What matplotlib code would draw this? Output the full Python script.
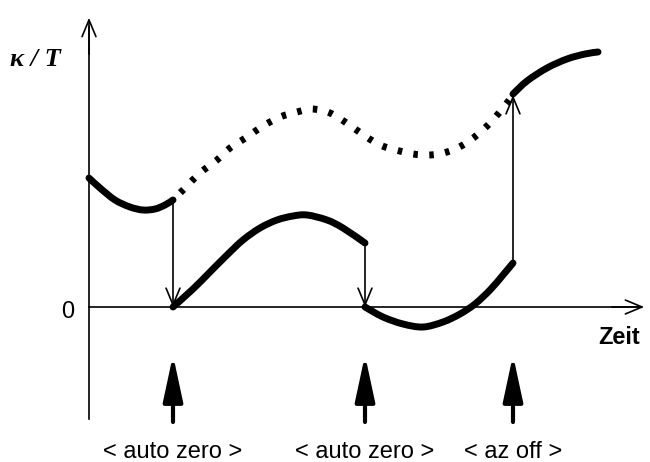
import numpy as np
import matplotlib
matplotlib.use("Agg")
import matplotlib.pyplot as plt
from matplotlib.patches import FancyArrowPatch, PathPatch
from matplotlib.path import Path

# curve segments (t, kappa/T)
seg1_t = [0, 1.1, 2.6, 4.1, 5.4, 6.6, 7.6, 8.4]
seg1_y = [12.9, 11.9, 10.7, 10.0, 9.7, 9.8, 10.2, 10.7]

seg2_t = [8.4, 10.4, 12.1, 13.8, 15.4, 17.1, 18.8, 20.4, 21.8, 23.8, 25.4, 27.6]
seg2_y = [0, 1.8, 3.5, 5.2, 6.7, 7.9, 8.7, 9.1, 9.2, 8.7, 7.9, 6.4]

seg3_t = [27.6, 29.4, 31.4, 33.4, 35.4, 37.1, 38.6, 40.1, 41.4, 42.4]
seg3_y = [0, -1.0, -1.7, -2.0, -1.5, -0.7, 0.3, 1.7, 3.2, 4.4]

seg4_t = [42.4, 43.8, 45.8, 47.8, 49.6, 50.9]
seg4_y = [21.3, 22.6, 23.9, 24.8, 25.3, 25.5]

# drift without auto zero (dotted)
drift_t = [8.4, 9.6, 11.1, 12.8, 14.1, 15.8, 17.4, 19.1, 20.8, 22.3, 24.1, 25.9,
           27.6, 29.1, 30.7, 32.4, 34.1, 35.8, 37.4, 38.8, 40.2, 41.4, 42.4]
drift_y = [10.7, 11.9, 13.4, 14.7, 15.9, 17.0, 18.1, 19.0, 19.5, 19.8, 19.4, 18.3,
           17.1, 16.2, 15.7, 15.3, 15.2, 15.5, 16.2, 17.2, 18.5, 19.9, 21.2]

# jumps at the events
jump_t = [8.4, 27.6, 42.4]
jump_from = [10.7, 6.4, 4.4]
jump_to = [0, 0, 21.2]
event_labels = ["< auto zero >", "< auto zero >", "< az off >"]


def smooth_path(t, y):
    # catmull-rom through the points, handed to matplotlib as cubic beziers
    p = np.column_stack([t, y]).astype(float)
    p = np.vstack([p[0], p, p[-1]])
    verts = [p[1]]
    codes = [Path.MOVETO]
    for i in range(1, len(p) - 2):
        c1 = p[i] + (p[i + 1] - p[i - 1]) / 6
        c2 = p[i + 1] - (p[i + 2] - p[i]) / 6
        verts += [c1, c2, p[i + 1]]
        codes += [Path.CURVE4] * 3
    return Path(verts, codes)


fig = plt.figure(figsize=(6.5, 4.62), dpi=100)
ax = fig.add_axes([0, 0, 1, 1])
ax.set_xlim(-8.9, 56.1)
ax.set_ylim(-15.5, 30.7)
ax.axis("off")

sans = ["Liberation Sans", "DejaVu Sans"]

# axes with arrow heads
ax.plot([0, 0], [-11.2, 28], color="black", lw=1.2)
ax.plot([0, 55], [0, 0], color="black", lw=1.2)
ax.add_patch(FancyArrowPatch((0, 25), (0, 29.2), arrowstyle="->,head_length=0.6,head_width=0.25",
                             mutation_scale=20, lw=1.2, color="black"))
ax.add_patch(FancyArrowPatch((52, 0), (55.8, 0), arrowstyle="->,head_length=0.6,head_width=0.25",
                             mutation_scale=20, lw=1.2, color="black"))

# solid measured curve
for tt, yy in [(seg1_t, seg1_y), (seg2_t, seg2_y), (seg3_t, seg3_y), (seg4_t, seg4_y)]:
    ax.add_patch(PathPatch(smooth_path(tt, yy), fill=False, lw=5, edgecolor="black",
                           capstyle="round", joinstyle="round"))

# dotted drift
ax.add_patch(PathPatch(smooth_path(drift_t, drift_y), fill=False, lw=5, edgecolor="black",
                       linestyle=(0.8, (0.65, 1.65)), capstyle="butt"))

# thin jump arrows
for t, y0, y1 in zip(jump_t, jump_from, jump_to):
    ax.add_patch(FancyArrowPatch((t, y0), (t, y1), arrowstyle="->,head_length=0.6,head_width=0.25",
                                 mutation_scale=20, lw=1.2, color="black", shrinkA=0, shrinkB=0))

# event arrows and labels below axis
for t, lab in zip(jump_t, event_labels):
    ax.add_patch(FancyArrowPatch((t, -11.5), (t, -4.8), arrowstyle="-|>,head_length=2.8,head_width=0.6",
                                 mutation_scale=10, lw=3, color="black", shrinkA=0, shrinkB=0))
    ax.text(t, -14.5, lab, ha="center", va="center", fontsize=17, family=sans)

ax.text(-1.5, -0.5, "0", ha="right", va="center", fontsize=17, family=sans)
ax.text(53.0, -3.1, "Zeit", ha="center", va="center", fontsize=17, fontweight="bold",
        family=sans)
ax.text(-5.4, 24.7, "κ / T", ha="center", va="center", fontsize=19, fontweight="bold",
        fontstyle="italic", family=["Liberation Serif", "DejaVu Serif"])

fig.savefig("out.png", dpi=100)
